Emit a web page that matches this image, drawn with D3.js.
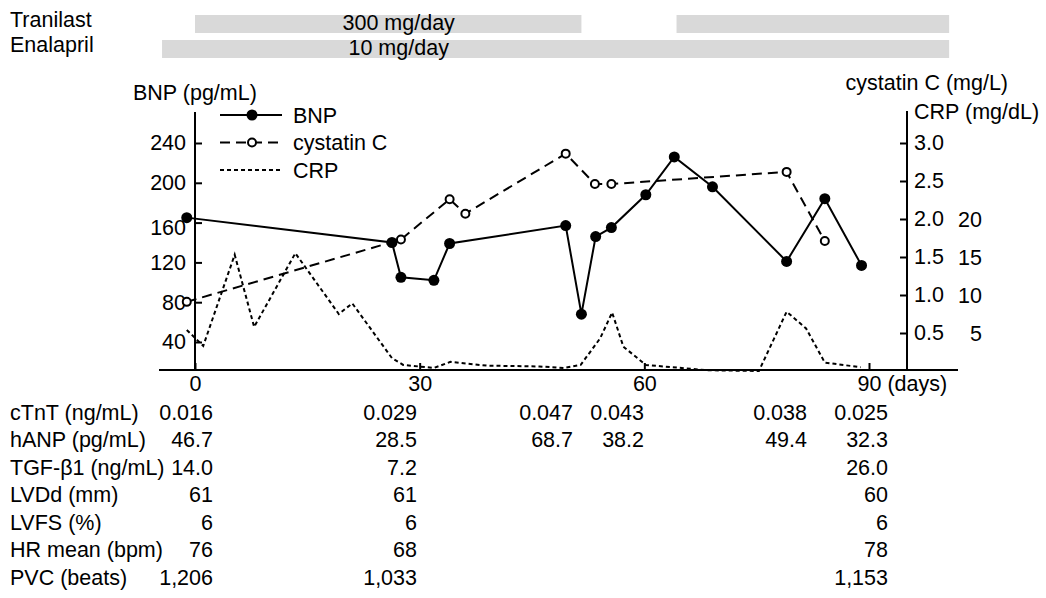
<!DOCTYPE html>
<html>
<head>
<meta charset="utf-8">
<script src="https://cdn.jsdelivr.net/npm/d3@7"></script>
<style>
  body { margin: 0; background: #fff; }
  svg text { font-family: "Liberation Sans", Arial, sans-serif; font-size: 21.5px; fill: #000; }
</style>
</head>
<body>
<div id="chart"></div>
<script>
// BNP (pg/mL), filled dots
const bnpDays   = [-1.1, 26.3, 27.5, 31.9, 34.0, 49.5, 51.6, 53.5, 55.6, 60.2, 64.0, 69.1, 79.0, 84.1, 89.0];
const bnpValues = [165, 140, 105, 102, 139, 157, 68, 146, 155, 188, 226, 196, 121, 184, 117];

// cystatin C (mg/L), open dots
const cysDays   = [-1.1, 27.5, 34.0, 36.1, 49.5, 53.4, 55.6, 79.0, 84.1];
const cysValues = [0.91, 1.73, 2.26, 2.07, 2.86, 2.46, 2.46, 2.62, 1.71];

// CRP (mg/dL), dotted line only
const crpDays   = [-1.1, 1.1, 5.3, 7.9, 13.4, 19.2, 21.0, 26.3, 27.8, 31.9, 34.1, 39.0, 46.0, 49.2, 51.5, 54.1, 55.7, 57.2, 60.2, 68.4, 75.3, 79.0, 81.6, 84.1, 88.9];
const crpValues = [5.4, 3.3, 15.3, 5.8, 15.5, 7.5, 8.9, 1.7, 0.8, 0.4, 1.2, 0.7, 0.6, 0.4, 0.8, 4.3, 7.7, 3.2, 0.8, 0.1, 0.0, 7.8, 5.6, 1.1, 0.5];

// medication periods (days)
const drugNames = ['Tranilast', 'Enalapril'];
const drugDoses = ['300 mg/day', '10 mg/day'];
const drugPeriods = [[[0, 51.6], [64.3, 100.7]], [[-4.4, 100.7]]];

// axis ticks
const dayTicks = [0, 30, 60, 90];
const bnpTicks = [40, 80, 120, 160, 200, 240];
const cysTicks = [0.5, 1.0, 1.5, 2.0, 2.5, 3.0];
const crpTicks = [5, 10, 15, 20];

// table under the chart
const tableLabels = ['cTnT (ng/mL)', 'hANP (pg/mL)', 'TGF-\u03b21 (ng/mL)', 'LVDd (mm)', 'LVFS (%)', 'HR mean (bpm)', 'PVC (beats)'];
const tableValues = [
  ['0.016', '0.029', '0.047', '0.043', '0.038', '0.025'],
  ['46.7', '28.5', '68.7', '38.2', '49.4', '32.3'],
  ['14.0', '7.2', '', '', '', '26.0'],
  ['61', '61', '', '', '', '60'],
  ['6', '6', '', '', '', '6'],
  ['76', '68', '', '', '', '78'],
  ['1,206', '1,033', '', '', '', '1,153']
];

const width = 1046, height = 598;
const axisY = 370, leftX = 195, rightX = 907;

const svg = d3.select('#chart').append('svg')
  .attr('width', width)
  .attr('height', height);

const x = d3.scaleLinear().domain([0, 90]).range([leftX, 869]);
const yBNP = d3.scaleLinear().domain([40, 240]).range([342, 143]);
const yCys = d3.scaleLinear().domain([0, 3]).range([371, 143]);
const yCRP = d3.scaleLinear().domain([0, 30]).range([371, 143]);

// medication bars
const drugRowY = [15, 40];
drugNames.forEach((name, i) => {
  svg.selectAll(null)
    .data(drugPeriods[i])
    .join('rect')
    .attr('x', d => x(d[0]))
    .attr('y', drugRowY[i])
    .attr('width', d => x(d[1]) - x(d[0]))
    .attr('height', 18)
    .attr('fill', '#d9d9d9');
  svg.append('text')
    .attr('x', 10)
    .attr('y', drugRowY[i] + 12)
    .text(name);
  svg.append('text')
    .attr('x', x(27.2))
    .attr('y', drugRowY[i] + 15)
    .attr('text-anchor', 'middle')
    .text(drugDoses[i]);
});

// axes
const xAxisG = svg.append('g')
  .attr('transform', `translate(0,${axisY})`)
  .call(d3.axisBottom(x).tickValues(dayTicks).tickSizeInner(-7).tickSizeOuter(0).tickPadding(6));
xAxisG.select('.domain').remove();
xAxisG.selectAll('.tick').filter(d => d === 90).select('text')
  .attr('text-anchor', 'start')
  .attr('dx', -12)
  .append('tspan').text(' (days)');

const leftAxisG = svg.append('g')
  .attr('transform', `translate(${leftX},0)`)
  .call(d3.axisLeft(yBNP).tickValues(bnpTicks).tickSizeInner(-7).tickSizeOuter(0).tickPadding(9));
leftAxisG.select('.domain').remove();
// the 160 label sits a bit low in the original
leftAxisG.selectAll('.tick').filter(d => d === 160).select('text').attr('dy', '0.55em');

const rightAxisG = svg.append('g')
  .attr('transform', `translate(${rightX},0)`)
  .call(d3.axisRight(yCys).tickValues(cysTicks).tickFormat(d3.format('.1f')).tickSizeInner(-7).tickSizeOuter(0).tickPadding(7));
rightAxisG.select('.domain').remove();

svg.selectAll('.tick text').attr('font-size', null).attr('font-family', null).attr('fill', '#000');
svg.selectAll('.tick line').attr('stroke', '#000').attr('stroke-width', 2);

svg.selectAll('.crp-label')
  .data(crpTicks)
  .join('text')
  .attr('class', 'crp-label')
  .attr('x', 982)
  .attr('y', d => yCRP(d))
  .attr('dy', '0.35em')
  .attr('text-anchor', 'end')
  .text(d => d);

// axis lines
svg.append('line').attr('x1', 159).attr('x2', 958).attr('y1', axisY).attr('y2', axisY)
  .attr('stroke', '#000').attr('stroke-width', 2);
svg.append('line').attr('x1', leftX).attr('x2', leftX).attr('y1', 112).attr('y2', axisY)
  .attr('stroke', '#000').attr('stroke-width', 2);
svg.append('line').attr('x1', rightX).attr('x2', rightX).attr('y1', 111).attr('y2', axisY)
  .attr('stroke', '#000').attr('stroke-width', 2);

// axis titles
svg.append('text').attr('x', 133).attr('y', 100).text('BNP (pg/mL)');
svg.append('text').attr('x', 1008).attr('y', 90).attr('text-anchor', 'end').text('cystatin C (mg/L)');
svg.append('text').attr('x', 914).attr('y', 119).text('CRP (mg/dL)');

// series
const crpLine = d3.line().x((d, i) => x(crpDays[i])).y(d => yCRP(d));
svg.append('path')
  .datum(crpValues)
  .attr('fill', 'none')
  .attr('stroke', '#000')
  .attr('stroke-width', 2)
  .attr('stroke-dasharray', '4,3')
  .attr('d', crpLine);

const cysLine = d3.line().x((d, i) => x(cysDays[i])).y(d => yCys(d));
svg.append('path')
  .datum(cysValues)
  .attr('fill', 'none')
  .attr('stroke', '#000')
  .attr('stroke-width', 2)
  .attr('stroke-dasharray', '10,6')
  .attr('d', cysLine);

const bnpLine = d3.line().x((d, i) => x(bnpDays[i])).y(d => yBNP(d));
svg.append('path')
  .datum(bnpValues)
  .attr('fill', 'none')
  .attr('stroke', '#000')
  .attr('stroke-width', 2)
  .attr('d', bnpLine);

svg.selectAll('.cys-point')
  .data(cysValues)
  .join('circle')
  .attr('class', 'cys-point')
  .attr('cx', (d, i) => x(cysDays[i]))
  .attr('cy', d => yCys(d))
  .attr('r', 4)
  .attr('fill', '#fff')
  .attr('stroke', '#000')
  .attr('stroke-width', 2);

svg.selectAll('.bnp-point')
  .data(bnpValues)
  .join('circle')
  .attr('class', 'bnp-point')
  .attr('cx', (d, i) => x(bnpDays[i]))
  .attr('cy', d => yBNP(d))
  .attr('r', 5.5)
  .attr('fill', '#000');

// legend
const legendItems = [
  {name: 'BNP', dash: null, marker: 'filled'},
  {name: 'cystatin C', dash: '10,6', marker: 'open'},
  {name: 'CRP', dash: '4,3', marker: null}
];
const legend = svg.selectAll('.legend')
  .data(legendItems)
  .join('g')
  .attr('class', 'legend')
  .attr('transform', (d, i) => `translate(220,${115 + i * 27.5})`);
legend.append('line')
  .attr('x1', 0).attr('x2', 62)
  .attr('stroke', '#000')
  .attr('stroke-width', 2)
  .attr('stroke-dasharray', d => d.dash);
legend.filter(d => d.marker)
  .append('circle')
  .attr('cx', 32)
  .attr('r', d => d.marker === 'filled' ? 5.5 : 4)
  .attr('fill', d => d.marker === 'filled' ? '#000' : '#fff')
  .attr('stroke', '#000')
  .attr('stroke-width', d => d.marker === 'filled' ? 0 : 2);
legend.append('text')
  .attr('x', 73)
  .attr('dy', '0.35em')
  .text(d => d.name);

// table
const colRight = [213, 417, 573, 644, 807, 888];
const rowY = d3.range(tableLabels.length).map(i => 419.5 + i * 27.5);
svg.selectAll('.row-label')
  .data(tableLabels)
  .join('text')
  .attr('class', 'row-label')
  .attr('x', 10)
  .attr('y', (d, i) => rowY[i])
  .text(d => d);
tableValues.forEach((row, r) => {
  svg.selectAll(null)
    .data(row)
    .join('text')
    .attr('x', (d, c) => colRight[c])
    .attr('y', rowY[r])
    .attr('text-anchor', 'end')
    .text(d => d);
});
</script>
</body>
</html>
